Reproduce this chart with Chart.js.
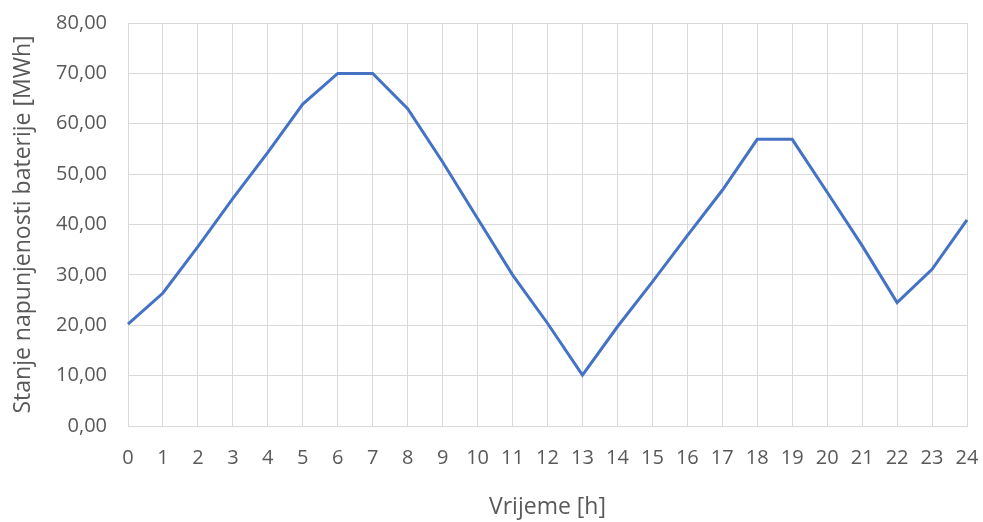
<!DOCTYPE html>
<html>
<head>
<meta charset="utf-8">
<script src="https://cdn.jsdelivr.net/npm/chart.js@4"></script>
<style>
  html, body { margin: 0; padding: 0; background: #fff; }
  #wrap { width: 983px; height: 522px; }
</style>
</head>
<body>
<div id="wrap"><canvas id="chart"></canvas></div>
<script>
// sati u danu
const hours = ['0','1','2','3','4','5','6','7','8','9','10','11','12','13','14','15','16','17','18','19','20','21','22','23','24'];
// stanje napunjenosti baterije [MWh]
const charge = [20.2, 26.4, 35.6, 45.2, 54.3, 63.9, 70.0, 70.0, 63.0, 52.4, 41.2, 30.0, 20.4, 10.1, 19.7, 28.6, 37.8, 46.8, 56.9, 56.9, 46.4, 35.8, 24.5, 31.1, 40.9];

const textColor = '#595959';
const gridColor = '#d9d9d9';
const tickFont = { family: 'Open Sans', size: 20 };
const titleFont = { family: 'Open Sans', size: 23 };

const ctx = document.getElementById('chart').getContext('2d');
new Chart(ctx, {
    type: 'line',
    data: {
        labels: hours,
        datasets: [{
            data: charge,
            borderColor: '#4472c4',
            borderWidth: 3,
            pointRadius: 0,
            tension: 0,
            fill: false
        }]
    },
    options: {
        responsive: true,
        maintainAspectRatio: false,
        animation: false,
        layout: { padding: { top: 23, right: 16, bottom: 0, left: 10 } },
        plugins: {
            legend: { display: false },
            tooltip: { enabled: false }
        },
        scales: {
            x: {
                offset: false,
                grid: { color: gridColor, drawTicks: false },
                border: { color: gridColor },
                ticks: { color: textColor, font: tickFont, padding: 20, maxRotation: 0, autoSkip: false },
                title: {
                    display: true,
                    text: 'Vrijeme [h]',
                    color: textColor,
                    font: titleFont,
                    padding: { top: 0, bottom: 1 }
                },
                afterFit: s => {
                    s.height = 96;
                    s.paddingLeft = 0;
                    s.paddingRight = 0;
                }
            },
            y: {
                min: 0,
                max: 80,
                grid: { color: gridColor, drawTicks: false },
                border: { color: gridColor },
                ticks: {
                    stepSize: 10,
                    color: textColor,
                    font: tickFont,
                    padding: 21,
                    callback: v => v.toFixed(2).replace('.', ',')
                },
                title: {
                    display: true,
                    text: 'Stanje napunjenosti baterije [MWh]',
                    color: textColor,
                    font: titleFont,
                    padding: { top: 0, bottom: 0 }
                },
                afterFit: s => {
                    s.width = 118;
                    s.paddingTop = 0;
                    s.paddingBottom = 0;
                }
            }
        }
    }
});
</script>
</body>
</html>
